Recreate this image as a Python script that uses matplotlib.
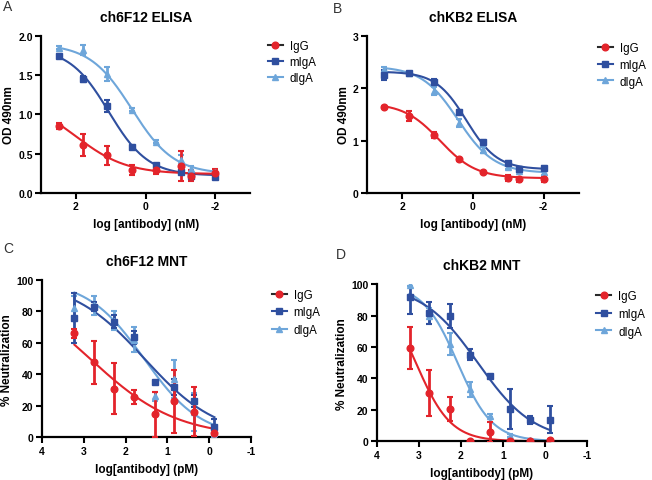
import numpy as np
import matplotlib
matplotlib.use('Agg')
import matplotlib.pyplot as plt
from matplotlib.lines import Line2D

plt.rcParams['font.family'] = ['Liberation Sans', 'DejaVu Sans']
plt.rcParams['axes.unicode_minus'] = False

# dose points
elisa_x = [2.5, 1.8, 1.1, 0.4, -0.3, -1.0, -1.3, -2.0]          # log nM
mnt_x = [3.22, 2.75, 2.27, 1.79, 1.31, 0.84, 0.36, -0.12]       # log pM

series = ['IgG', 'mIgA', 'dIgA']
colors = {'IgG': '#e3242b', 'mIgA': '#2f4f9f', 'dIgA': '#6ea6da'}
markers = {'IgG': 'o', 'mIgA': 's', 'dIgA': '^'}

# A: ch6F12 ELISA (OD 490nm)
a_igg = [0.85, 0.61, 0.48, 0.29, 0.29, 0.34, 0.22, 0.25]
a_igg_sd = [0.04, 0.14, 0.12, 0.06, 0.05, 0.19, 0.07, 0.05]
a_migA = [1.745, 1.45, 1.11, 0.585, 0.35, 0.27, 0.22, 0.20]
a_migA_sd = [0.02, 0.04, 0.08, 0.03, 0.02, 0.02, 0.02, 0.01]
a_digA = [1.85, 1.82, 1.52, 1.06, 0.65, 0.42, 0.30, 0.26]
a_digA_sd = [0.02, 0.06, 0.09, 0.02, 0.02, 0.06, 0.04, 0.02]

# B: chKB2 ELISA
b_igg = [1.65, 1.47, 1.10, 0.64, 0.40, 0.29, 0.26, 0.27]
b_igg_sd = [0.02, 0.09, 0.06, 0.03, 0.02, 0.06, 0.05, 0.06]
b_migA = [2.25, 2.29, 2.13, 1.55, 0.98, 0.58, 0.46, 0.48]
b_migA_sd = [0.10, 0.02, 0.04, 0.04, 0.04, 0.03, 0.03, 0.03]
b_digA = [2.37, 2.29, 1.95, 1.34, 0.82, 0.50, 0.42, 0.40]
b_digA_sd = [0.03, 0.02, 0.07, 0.08, 0.06, 0.05, 0.03, 0.05]

# C: ch6F12 MNT (% neutralization)
c_igg = [66, 47.7, 31, 25.4, 14.5, 23, 16.3, 2.8]
c_igg_sd = [3, 13.8, 16, 4.5, 14.5, 20, 15.5, 2]
c_migA = [76, 83, 73.5, 63.5, 35, 32, 23, 6.4]
c_migA_sd = [16, 3, 4, 4, 1, 5, 4, 5]
c_digA = [82, 84, 74, 62, 26, 37, 16, 3]
c_digA_sd = [8, 6, 6, 8, 3, 12, 12, 3]

# D: chKB2 MNT
d_igg = [59.4, 31, 20.6, 0.4, 5.7, 0.4, 0.4, 1]
d_igg_sd = [13.6, 14.6, 7.8, 0, 6.3, 0, 0, 0.5]
d_migA = [92, 81.5, 79.6, 55, 41.4, 20.6, 13.6, 13.8]
d_migA_sd = [11, 7, 7.7, 3.5, 1, 13, 2.5, 8.5]
d_digA = [99.6, 80, 62, 33, 16.3, 3.6, 0.8, 0.4]
d_digA_sd = [1, 5, 7, 5, 1, 1, 0.5, 0]

# fitted 4PL curves: (top, bottom, logEC50, hill)
a_fit = {'IgG': (1.2, 0.24, 2.0, 0.6), 'mIgA': (1.85, 0.22, 1.06, 0.77),
         'dIgA': (1.9, 0.24, 0.4, 0.72)}
b_fit = {'IgG': (1.72, 0.28, 0.93, 0.85), 'mIgA': (2.32, 0.45, 0.18, 1.0),
         'dIgA': (2.42, 0.38, 0.42, 0.85)}
c_fit = {'IgG': (100, 0, 2.85, 0.42), 'mIgA': (100, 0, 1.55, 0.5),
         'dIgA': (100, 0, 1.56, 0.64)}
d_fit = {'IgG': (100, 0, 3.07, 1.05), 'mIgA': (100, 0, 1.6, 0.65),
         'dIgA': (100, 0, 2.08, 1.05)}


def logistic(x, top, bottom, ec50, hill):
    return bottom + (top - bottom) / (1 + 10 ** ((ec50 - x) * hill))


def panel(rect, title, x, data, fits, xlim, xticks, ylim, yticks, yfmt,
          xlabel, ylabel, leg_pos, leg_space):
    ax = fig.add_axes(rect)
    xx = np.linspace(max(x), min(x), 200)
    for s in ['dIgA', 'mIgA', 'IgG']:
        y, sd = data[s]
        ax.plot(xx, logistic(xx, *fits[s]), color=colors[s], lw=1.5,
                zorder=2, clip_on=False)
        ax.errorbar(x, y, yerr=sd, fmt=markers[s], color=colors[s],
                    ms=4.8, elinewidth=2, capsize=2.5, capthick=1.5,
                    zorder=3, clip_on=True)
    ax.set_xlim(*xlim)
    ax.set_ylim(*ylim)
    ax.set_xticks(xticks)
    ax.set_xticklabels([str(t) for t in xticks])
    ax.set_yticks(yticks)
    ax.set_yticklabels([yfmt % t for t in yticks])
    for sp in ['top', 'right']:
        ax.spines[sp].set_visible(False)
    for sp in ['left', 'bottom']:
        ax.spines[sp].set_linewidth(1.6)
    ax.tick_params(direction='out', length=4, width=1.5, labelsize=7.5,
                   pad=2)
    for lab in ax.get_xticklabels() + ax.get_yticklabels():
        lab.set_fontweight('bold')
    ax.set_title(title, fontsize=10, fontweight='bold', pad=11)
    ax.set_xlabel(xlabel, fontsize=8.5, fontweight='bold', labelpad=5)
    ax.set_ylabel(ylabel, fontsize=8.5, fontweight='bold', labelpad=2)

    handles = [Line2D([], [], color='#2a2a2a' if s == 'IgG' else colors[s],
                      lw=1.5, marker=markers[s], ms=4.8,
                      markerfacecolor=colors[s], markeredgecolor=colors[s])
               for s in series]
    fig.legend(handles, series, loc='upper left', bbox_to_anchor=leg_pos,
               frameon=False, borderpad=0, handlelength=1.3,
               handletextpad=0.6, labelspacing=leg_space,
               prop={'size': 8.3})
    return ax


fig = plt.figure(figsize=(6.52, 4.81), dpi=100)

panel([0.063, 0.597, 0.321, 0.326], 'ch6F12 ELISA', elisa_x,
      {'IgG': (a_igg, a_igg_sd), 'mIgA': (a_migA, a_migA_sd),
       'dIgA': (a_digA, a_digA_sd)}, a_fit,
      (3, -3), [2, 0, -2], (0, 2.0), [0, 0.5, 1.0, 1.5, 2.0], '%.1f',
      'log [antibody] (nM)', 'OD 490nm', (0.402, 0.926), 0.32)

panel([0.5624, 0.597, 0.3256, 0.326], 'chKB2 ELISA', elisa_x,
      {'IgG': (b_igg, b_igg_sd), 'mIgA': (b_migA, b_migA_sd),
       'dIgA': (b_digA, b_digA_sd)}, b_fit,
      (3, -3), [2, 0, -2], (0, 3), [0, 1, 2, 3], '%d',
      'log [antibody] (nM)', 'OD 490nm', (0.908, 0.922), 0.4)

panel([0.064, 0.0888, 0.3215, 0.327], 'ch6F12 MNT', mnt_x,
      {'IgG': (c_igg, c_igg_sd), 'mIgA': (c_migA, c_migA_sd),
       'dIgA': (c_digA, c_digA_sd)}, c_fit,
      (4, -1), [4, 3, 2, 1, 0, -1], (0, 100), [0, 20, 40, 60, 80, 100], '%d',
      'log[antibody] (pM)', '% Neutralization', (0.408, 0.41), 0.5)

panel([0.5778, 0.0805, 0.323, 0.3264], 'chKB2 MNT', mnt_x,
      {'IgG': (d_igg, d_igg_sd), 'mIgA': (d_migA, d_migA_sd),
       'dIgA': (d_digA, d_digA_sd)}, d_fit,
      (4, -1), [4, 3, 2, 1, 0, -1], (0, 100), [0, 20, 40, 60, 80, 100], '%d',
      'log[antibody] (pM)', '% Neutralization', (0.906, 0.407), 0.5)

for letter, px, py in [('A', 3, 7), ('B', 333, 9), ('C', 3, 249), ('D', 336, 255)]:
    fig.text(px / 652, 1 - py / 481, letter, fontsize=10, va='center',
             ha='left', color='#333333')

fig.savefig('out.png', dpi=100)
